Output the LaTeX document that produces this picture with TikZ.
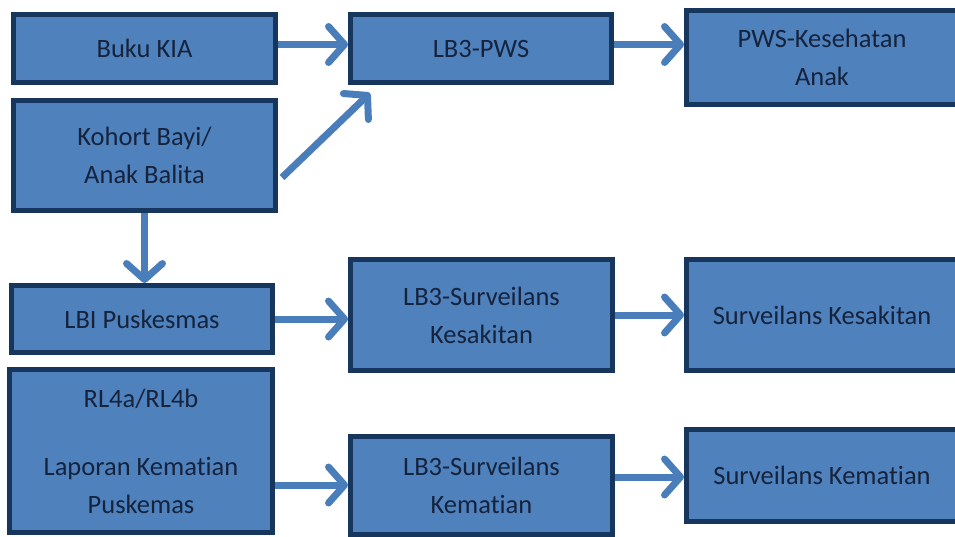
\documentclass[tikz,border=0pt]{standalone}
\usepackage{fontspec}
\setmainfont{Carlito}[Ligatures={NoCommon}]
\usetikzlibrary{arrows.meta}

\definecolor{boxfill}{HTML}{4F81BD}
\definecolor{boxline}{HTML}{17365D}
\definecolor{boxtext}{HTML}{15233D}
\definecolor{arrowblue}{HTML}{4A7EBB}

\begin{document}
\begin{tikzpicture}[x=1pt, y=-1pt,
    box/.style={draw=boxline, fill=boxfill, line width=5pt, text=boxtext,
        font=\fontsize{26.5}{38}\selectfont, align=center, inner sep=0pt},
    flow/.style={draw=arrowblue, line width=7pt, line join=round,
        -{Straight Barb[length=16pt,width=36pt,round]},
        preaction={draw=black!30, transform canvas={shift={(2pt,-2pt)}}}}]

    \useasboundingbox (0,0) rectangle (955,536);

    \node[box, minimum width=262, minimum height=68] (buku) at (144.5,48.5) {Buku KIA};
    \node[box, minimum width=262, minimum height=110] (kohort) at (144.5,155.5) {Kohort Bayi/\\Anak Balita};
    \node[box, minimum width=261, minimum height=68] (lbpws) at (481,48.5) {LB3-PWS};
    \node[box, minimum width=271, minimum height=94] (pws) at (822,57.5) {PWS-Kesehatan\\Anak};

    \node[box, minimum width=261, minimum height=67] (lbi) at (142,319) {LBI Puskesmas};
    \node[box, minimum width=262, minimum height=111] (lbkes) at (481.5,315) {LB3-Surveilans\\Kesakitan};
    \node[box, minimum width=271, minimum height=111] (survkes) at (822,315) {Surveilans Kesakitan};

    \node[box, minimum width=263, minimum height=163] (rl) at (141,451) {RL4a/RL4b\\[30pt]Laporan Kematian\\Puskemas};
    \node[box, minimum width=262, minimum height=98] (lbkem) at (481.5,485) {LB3-Surveilans\\Kematian};
    \node[box, minimum width=271, minimum height=92] (survkem) at (822,475.5) {Surveilans Kematian};

    \draw[flow] ([yshift=4]buku.east) -- ([yshift=4]lbpws.west);
    \draw[flow] ([xshift=4,yshift=-22]kohort.east) -- ([xshift=22,yshift=-8]lbpws.south west);
    \draw[flow] (kohort.south) -- (kohort.south |- lbi.north);
    \draw[flow] ([yshift=4]lbpws.east) -- ([yshift=4]lbpws.east -| pws.west);

    \draw[flow] (lbi.east) -- (lbi.east -| lbkes.west);
    \draw[flow] (lbkes.east) -- (lbkes.east -| survkes.west);

    \draw[flow] (lbkem.west -| rl.east) -- (lbkem.west);
    \draw[flow] ([yshift=8]lbkem.east) -- ([yshift=8]lbkem.east -| survkem.west);

\end{tikzpicture}
\end{document}
